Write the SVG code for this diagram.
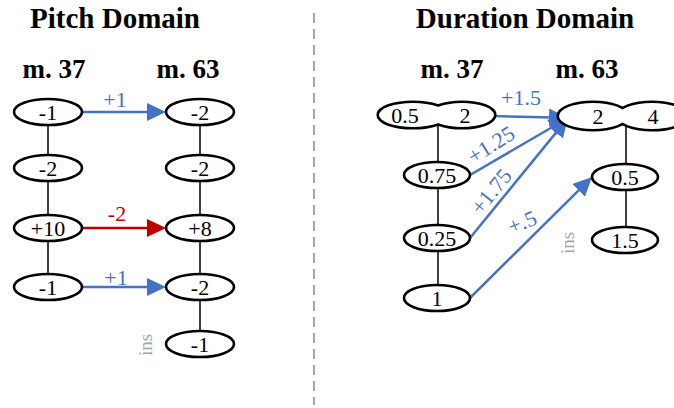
<svg xmlns="http://www.w3.org/2000/svg" width="674" height="408" viewBox="0 0 674 408">
<style>
.title{font-family:"Liberation Serif",serif;font-weight:bold;font-size:29px;text-anchor:middle;fill:#000}
.m{font-family:"Liberation Serif",serif;font-weight:bold;font-size:27px;text-anchor:middle;fill:#000}
.lbl{font-family:"Liberation Serif",serif;font-size:22px;text-anchor:middle;fill:#000}
.el{fill:#fff;stroke:#000;stroke-width:2.6}
.elo{fill:none;stroke:#000;stroke-width:5.2}
.elf{fill:#fff;stroke:none}
.v{stroke:#000;stroke-width:1.5}
.blue{stroke:#4472C4;stroke-width:2.5;fill:none}
.red{stroke:#C00000;stroke-width:2.5;fill:none}
.bt{font-family:"Liberation Serif",serif;font-size:22px;text-anchor:middle;fill:#4472C4}
.rt{font-family:"Liberation Serif",serif;font-size:22px;text-anchor:middle;fill:#C00000}
.ins{font-family:"Liberation Serif",serif;font-size:19px;text-anchor:middle;fill:#A6A6A6}
</style>
<defs>
<marker id="ab" markerUnits="userSpaceOnUse" markerWidth="19" markerHeight="18" refX="4" refY="9" orient="auto" viewBox="0 0 19 18"><path d="M0,0 L19,9 L0,18 z" fill="#4472C4"/></marker>
<marker id="ar" markerUnits="userSpaceOnUse" markerWidth="19" markerHeight="18" refX="4" refY="9" orient="auto" viewBox="0 0 19 18"><path d="M0,0 L19,9 L0,18 z" fill="#C00000"/></marker>
</defs>
<text class="title" x="115" y="28">Pitch Domain</text>
<text class="title" x="525" y="28">Duration Domain</text>
<text class="m" x="54" y="78">m. 37</text>
<text class="m" x="188" y="78">m. 63</text>
<text class="m" x="452" y="78">m. 37</text>
<text class="m" x="587" y="78">m. 63</text>
<line x1="314" y1="13" x2="314" y2="405" stroke="#A6A6A6" stroke-width="2" stroke-dasharray="10,6"/>
<g id="connectors">
<line class="v" x1="48" y1="112" x2="48" y2="287"/>
<line class="v" x1="200" y1="112" x2="200" y2="344"/>
<line class="v" x1="438" y1="124" x2="438" y2="298"/>
<line class="v" x1="626" y1="124" x2="626" y2="240"/>
<path class="blue" d="M82,112 L151,112" marker-end="url(#ab)"/>
<path class="red" d="M82,228 L151,228" marker-end="url(#ar)"/>
<path class="blue" d="M82,287 L151,287" marker-end="url(#ab)"/>
<path class="blue" d="M494,116 L553,117.6" marker-end="url(#ab)"/>
<path class="blue" d="M470,175 L555,125.5" marker-end="url(#ab)"/>
<path class="blue" d="M470,238 L558.5,129.6" marker-end="url(#ab)"/>
<path class="blue" d="M470,298 L581.4,187.6" marker-end="url(#ab)"/>
<text class="bt" x="115" y="107">+1</text>
<text class="rt" x="117" y="221">-2</text>
<text class="bt" x="116" y="285">+1</text>
<text class="bt" x="521" y="105">+1.5</text>
<text class="bt" transform="translate(495,151) rotate(-32)">+1.25</text>
<text class="bt" transform="translate(497,196) rotate(-51)">+1.75</text>
<text class="bt" transform="translate(525,229) rotate(-22)">+.5</text>
<text class="ins" transform="translate(152,345) rotate(-90)">ins</text>
<text class="ins" transform="translate(574,243) rotate(-90)">ins</text>
</g>
<g id="p37a"><ellipse class="el" cx="48" cy="112" rx="34" ry="13"/><text class="lbl" x="48" y="119.5">-1</text></g>
<g id="p37b"><ellipse class="el" cx="48" cy="168" rx="34" ry="13"/><text class="lbl" x="48" y="175.5">-2</text></g>
<g id="p37c"><ellipse class="el" cx="48" cy="228" rx="34" ry="13"/><text class="lbl" x="48" y="235.5">+10</text></g>
<g id="p37d"><ellipse class="el" cx="48" cy="287" rx="34" ry="13"/><text class="lbl" x="48" y="294.5">-1</text></g>
<g id="p63a"><ellipse class="el" cx="200" cy="112" rx="34" ry="13"/><text class="lbl" x="200" y="119.5">-2</text></g>
<g id="p63b"><ellipse class="el" cx="200" cy="168" rx="34" ry="13"/><text class="lbl" x="200" y="175.5">-2</text></g>
<g id="p63c"><ellipse class="el" cx="200" cy="228" rx="34" ry="13"/><text class="lbl" x="200" y="235.5">+8</text></g>
<g id="p63d"><ellipse class="el" cx="200" cy="287" rx="34" ry="13"/><text class="lbl" x="200" y="294.5">-2</text></g>
<g id="p63e"><ellipse class="el" cx="200" cy="344" rx="34" ry="13"/><text class="lbl" x="200" y="351.5">-1</text></g>
<g id="d37a">
<ellipse class="elo" cx="413" cy="115" rx="34" ry="12"/><ellipse class="elo" cx="462" cy="115" rx="32" ry="12"/>
<ellipse class="elf" cx="413" cy="115" rx="34" ry="12"/><ellipse class="elf" cx="462" cy="115" rx="32" ry="12"/>
<text class="lbl" x="405" y="122.5">0.5</text><text class="lbl" x="465" y="122.5">2</text>
</g>
<g id="d37b"><ellipse class="el" cx="437" cy="175" rx="33" ry="13"/><text class="lbl" x="437" y="182.5">0.75</text></g>
<g id="d37c"><ellipse class="el" cx="437" cy="238" rx="33" ry="13"/><text class="lbl" x="437" y="245.5">0.25</text></g>
<g id="d37d"><ellipse class="el" cx="437" cy="298" rx="33" ry="13"/><text class="lbl" x="437" y="305.5">1</text></g>
<g id="d63a">
<ellipse class="elo" cx="593" cy="116" rx="34" ry="13"/><ellipse class="elo" cx="652" cy="116" rx="34" ry="13"/>
<ellipse class="elf" cx="593" cy="116" rx="34" ry="13"/><ellipse class="elf" cx="652" cy="116" rx="34" ry="13"/>
<text class="lbl" x="598" y="123.5">2</text><text class="lbl" x="653" y="123.5">4</text>
</g>
<g id="d63b"><ellipse class="el" cx="625" cy="177" rx="33" ry="13"/><text class="lbl" x="625" y="184.5">0.5</text></g>
<g id="d63c"><ellipse class="el" cx="625" cy="240" rx="33" ry="13"/><text class="lbl" x="625" y="247.5">1.5</text></g>
</svg>
